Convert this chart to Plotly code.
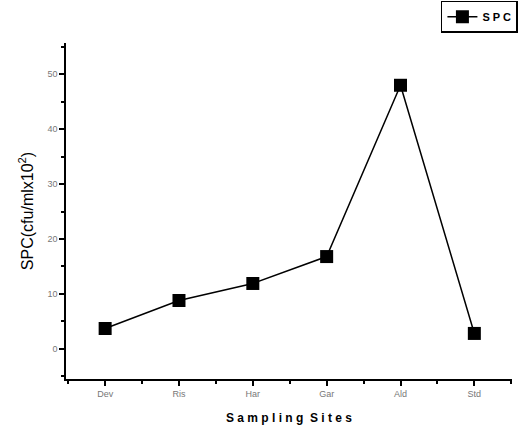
import plotly.graph_objects as go

sites = ["Dev", "Ris", "Har", "Gar", "Ald", "Std"]
spc = [3.7, 8.8, 11.9, 16.8, 48.0, 2.8]
y_ticks = [0, 10, 20, 30, 40, 50]

x_pos = list(range(len(sites)))

fig = go.Figure()
fig.add_trace(go.Scatter(
    x=x_pos, y=spc, mode="lines+markers", name="<b>S P C</b>",
    line=dict(color="black", width=1.5),
    marker=dict(symbol="square", size=13, color="black"),
))

fig.update_layout(
    width=520, height=432,
    margin=dict(l=66, r=8, t=43, b=53, autoexpand=False),
    paper_bgcolor="white", plot_bgcolor="white",
    font=dict(family="Liberation Sans, Arial, sans-serif", color="black"),
    showlegend=True,
    legend=dict(xref="container", yref="container", x=0.996, y=0.998,
                xanchor="right", yanchor="top",
                bordercolor="black", borderwidth=1.5, bgcolor="white",
                font=dict(size=11, color="black", family="Liberation Sans, Arial"),
                itemwidth=30, tracegroupgap=0),
    xaxis=dict(
        range=[-0.53, 5.51], tickvals=x_pos, ticktext=sites,
        showgrid=False, zeroline=False, showline=True, linecolor="black", linewidth=1.5,
        ticks="outside", ticklen=5, tickwidth=1.5, tickcolor="black",
        tickfont=dict(size=9, color="#777777"),
        minor=dict(tickvals=[-0.5, 0.5, 1.5, 2.5, 3.5, 4.5, 5.5], ticks="outside",
                   ticklen=3, tickwidth=1.5, tickcolor="black"),
        title=dict(text="<b>S a m p l i n g  S i t e s</b>", font=dict(size=12, color="black"), standoff=16),
    ),
    yaxis=dict(
        range=[-5.5, 55.7], tickvals=y_ticks,
        showgrid=False, zeroline=False, showline=True, linecolor="black", linewidth=1.5,
        ticks="outside", ticklen=5, tickwidth=1.5, tickcolor="black",
        tickfont=dict(size=9, color="#777777"),
        minor=dict(tickvals=[-5, 5, 15, 25, 35, 45, 55], ticks="outside",
                   ticklen=3, tickwidth=1.5, tickcolor="black"),
        title=dict(text="SPC(cfu/mlx10<sup>2</sup>)", font=dict(size=16, color="black"), standoff=10),
    ),
)

fig.write_html("out.html")
